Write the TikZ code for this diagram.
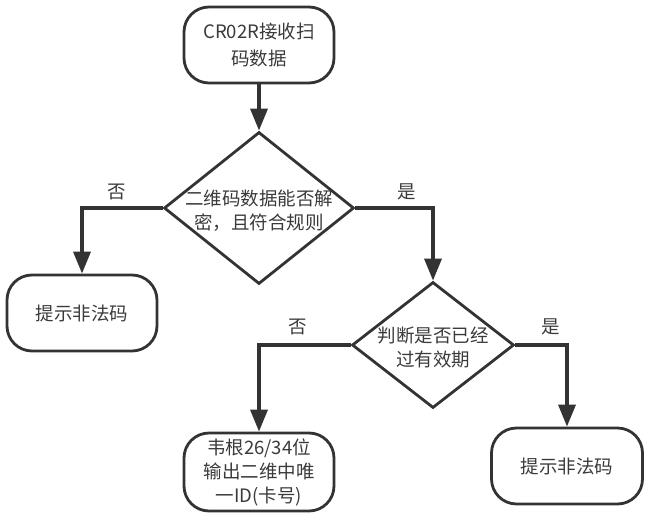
\documentclass[tikz,border=0pt]{standalone}
\usepackage{fontspec}
\setmainfont{Noto Sans CJK SC}
\usetikzlibrary{arrows.meta, shapes.geometric}
\definecolor{linegray}{HTML}{333333}
\definecolor{textgray}{HTML}{3A3A3A}

\tikzset{
  body/.style={text=textgray, align=center, font=\fontsize{18.5}{24}\selectfont},
  terminal/.style={body, draw=linegray, line width=2.8pt, rounded corners=25pt,
    minimum width=150pt, minimum height=76pt, inner sep=0pt},
  decision/.style={diamond, draw=linegray, line width=2.8pt, inner sep=0pt},
  flow/.style={-{Triangle[width=17pt, length=22pt]}, line width=3.5pt, draw=linegray},
}

\begin{document}
\begin{tikzpicture}[x=1pt, y=-1pt]
    \useasboundingbox (0,0) rectangle (650,527);

    \node[terminal, font=\fontsize{18.5}{27}\selectfont] at (259, 45)   (recv) {CR02R接收扫\\码数据};
    \node[decision, minimum width=190pt, minimum height=152pt] at (259, 208) (decode) {};
    \node[body] at (259, 211) (decodetext) {二维码数据能否解\\密，且符合规则};
    \node[terminal] at (82, 313)   (illegal) {提示非法码};
    \node[decision, minimum width=162pt, minimum height=126pt] at (433, 345) (expire) {};
    \node[body] at (433, 347) (expiretext) {判断是否已经\\过有效期};
    \node[terminal, minimum height=78pt] at (259, 472) (wiegand) {韦根26/34位\\输出二维中唯\\一ID(卡号)};
    \node[terminal, minimum width=151pt] at (567, 466) (expired) {提示非法码};

    \node[body] at (117, 192) (nodecode) {否};
    \node[body] at (407, 192) (yesdecode) {是};
    \node[body] at (298, 327) (noexpire) {否};
    \node[body] at (551, 327) (yesexpire) {是};

    \draw [flow] (recv) -- (decode);
    \draw [flow] (decode.west) -| (illegal);
    \draw [flow] (decode.east) -| (expire);
    \draw [flow] (expire.west) -| (wiegand);
    \draw [flow] (expire.east) -| (expired);
\end{tikzpicture}
\end{document}
